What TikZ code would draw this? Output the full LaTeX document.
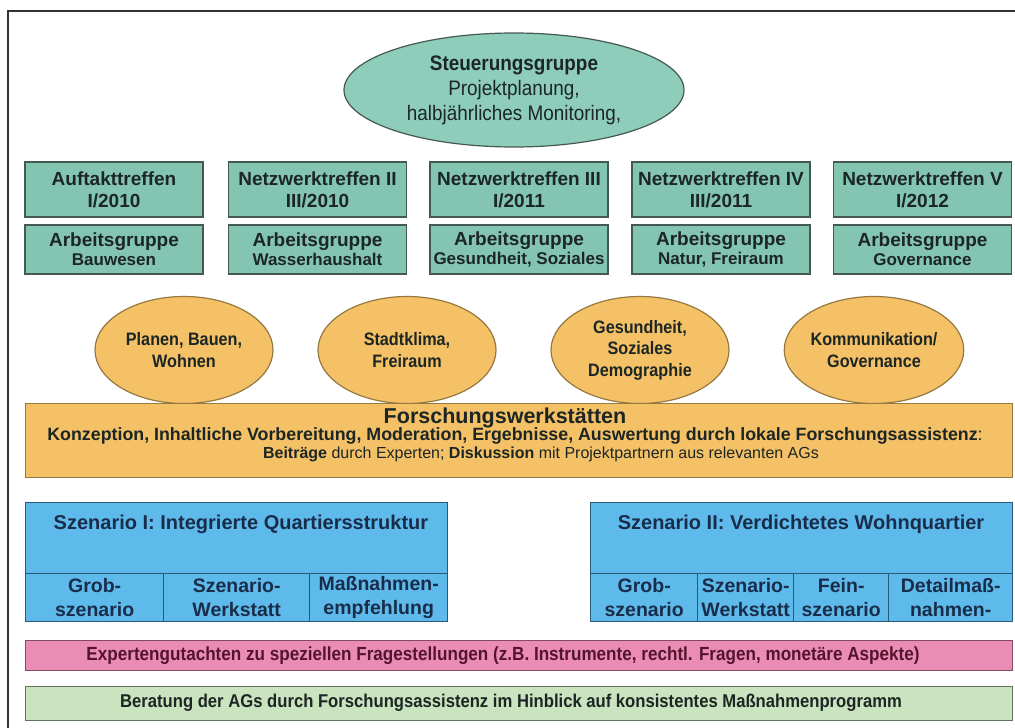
\documentclass[tikz,border=0pt]{standalone}
\usepackage{fontspec}
\setmainfont{Liberation Sans}
\newfontfamily\narrowf[FakeStretch=0.9]{Liberation Sans}
\usetikzlibrary{shapes.geometric}
\definecolor{tealfill}{RGB}{132,197,178}
\definecolor{ellfill}{RGB}{142,205,186}
\definecolor{tealline}{RGB}{70,88,84}
\definecolor{orfill}{RGB}{245,193,102}
\definecolor{orline}{RGB}{150,120,65}
\definecolor{blfill}{RGB}{94,186,234}
\definecolor{blline}{RGB}{40,90,120}
\definecolor{pkfill}{RGB}{234,140,180}
\definecolor{pkline}{RGB}{130,75,95}
\definecolor{grfill}{RGB}{201,228,190}
\definecolor{grline}{RGB}{95,115,95}
\definecolor{txdark}{RGB}{28,38,36}
\definecolor{txnavy}{RGB}{25,45,75}
\definecolor{txmaroon}{RGB}{85,20,45}
\begin{document}
\begin{tikzpicture}[x=1pt,y=-1pt,
  tealbox/.style={draw=tealline,fill=tealfill,line width=1.4pt,minimum width=178pt,inner sep=0pt,align=center,text=txdark},
  toprow/.style={tealbox,minimum height=55pt,font=\fontsize{19}{22}\selectfont\bfseries},
  agrow/.style={tealbox,minimum height=49pt},
  orcirc/.style={ellipse,draw=orline,fill=orfill,line width=1.2pt,minimum width=178pt,minimum height=107pt,inner sep=0pt,align=center,text=txdark,font=\narrowf\fontsize{18}{21.5}\selectfont\bfseries},
  bluebox/.style={draw=blline,fill=blfill,line width=1.4pt,inner sep=0pt,anchor=north west},
  cell/.style={bluebox,minimum height=48pt,align=center,text=txnavy,font=\fontsize{19.5}{24}\selectfont\bfseries},
  wide/.style={line width=1.4pt,minimum width=987pt,inner sep=0pt,anchor=north west},
  txt/.style={inner sep=0pt,align=center}
]
\useasboundingbox (0,0) rectangle (1015,728);
\fill[white] (0,0) rectangle (1015,728);
\coordinate (fa) at (8,728);
\coordinate (fb) at (8,11);
\coordinate (fc) at (1015,11);
\draw[line width=1.6pt,black!80] (fa) -- (fb) -- (fc);

% top ellipse
\node[ellipse,draw=tealline,fill=ellfill,line width=1.2pt,minimum width=340pt,minimum height=114pt,inner sep=0pt,align=center,text=txdark,font=\narrowf\fontsize{21}{25}\selectfont] (steu) at (514,90)
  {\textbf{Steuerungsgruppe}\\Projektplanung,\\halbjährliches Monitoring,};

% row 1
\node[toprow] (t1) at (114,189.5) {Auftakttreffen\\I/2010};
\node[toprow] (t2) at (317.5,189.5) {Netzwerktreffen II\\III/2010};
\node[toprow] (t3) at (519,189.5) {Netzwerktreffen III\\I/2011};
\node[toprow] (t4) at (721,189.5) {Netzwerktreffen IV\\III/2011};
\node[toprow] (t5) at (922.5,189.5) {Netzwerktreffen V\\I/2012};
% row 2
\newcommand\agtext[1]{{\fontsize{19}{22}\selectfont\bfseries Arbeitsgruppe}\\[2pt]{\fontsize{17}{18}\selectfont\bfseries #1}}
\node[agrow] (a1) at (114,249.5) {\agtext{Bauwesen}};
\node[agrow] (a2) at (317.5,249.5) {\agtext{Wasserhaushalt}};
\node[agrow] (a3) at (519,249.5) {\agtext{Gesundheit, Soziales}};
\node[agrow] (a4) at (721,249.5) {\agtext{Natur, Freiraum}};
\node[agrow] (a5) at (922.5,249.5) {\agtext{Governance}};

% circles
\node[orcirc] (c1) at (184,350) {Planen, Bauen,\\Wohnen};
\node[orcirc] (c2) at (407,350) {Stadtklima,\\Freiraum};
\node[orcirc] (c3) at (640,350) {Gesundheit,\\Soziales\\Demographie};
\node[orcirc] (c4) at (874,350) {Kommunikation/\\Governance};

% Forschungswerkstaetten
\node[wide,draw=orline,fill=orfill,minimum height=74pt] (fw) at (25,403) {};
\node[txt,text=txdark,font=\fontsize{21.5}{24}\selectfont\bfseries] (fwt) at (505,418) {Forschungswerkstätten};
\node[txt,text=txdark,font=\fontsize{17.8}{20}\selectfont] (fw2) at (515,436) {\textbf{Konzeption, Inhaltliche Vorbereitung, Moderation, Ergebnisse, Auswertung durch lokale Forschungsassistenz}:};
\node[txt,text=txdark,font=\fontsize{16}{20}\selectfont] (fw3) at (541,454) {\textbf{Beiträge} durch Experten; \textbf{Diskussion} mit Projektpartnern aus relevanten AGs};

% Szenario I
\node[bluebox,minimum width=422pt,minimum height=71pt] (s1) at (25,502) {};
\node[txt,text=txnavy,font=\fontsize{20}{24}\selectfont\bfseries] (s1t) at (241,524) {Szenario I: Integrierte Quartiersstruktur};
\node[cell,minimum width=138pt] (s1a) at (25,573) {Grob-\\szenario};
\node[cell,minimum width=146pt] (s1b) at (163,573) {Szenario-\\Werkstatt};
\node[cell,minimum width=138pt] (s1c) at (309,573) {Maßnahmen-\\empfehlung};

% Szenario II
\node[bluebox,minimum width=422pt,minimum height=71pt] (s2) at (590,502) {};
\node[txt,text=txnavy,font=\fontsize{20}{24}\selectfont\bfseries] (s2t) at (801,524) {Szenario II: Verdichtetes Wohnquartier};
\node[cell,minimum width=107pt] (s2a) at (590,573) {Grob-\\szenario};
\node[cell,minimum width=96pt] (s2b) at (697,573) {Szenario-\\Werkstatt};
\node[cell,minimum width=95pt] (s2c) at (793,573) {Fein-\\szenario};
\node[cell,minimum width=124pt] (s2d) at (888,573) {Detailmaß-\\nahmen-};

% pink and green bars
\node[wide,draw=pkline,fill=pkfill,minimum height=30pt] (pk) at (25,640) {};
\node[txt,text=txmaroon,font=\narrowf\fontsize{19}{20}\selectfont\bfseries] (pkt) at (503,655.5) {Expertengutachten zu speziellen Fragestellungen (z.B. Instrumente, rechtl. Fragen, monetäre Aspekte)};
\node[wide,draw=grline,fill=grfill,minimum height=34pt] (gr) at (25,686) {};
\node[txt,text=txdark,font=\narrowf\fontsize{18.5}{20}\selectfont\bfseries] (grt) at (511,703) {Beratung der AGs durch Forschungsassistenz im Hinblick auf konsistentes Maßnahmenprogramm};
\end{tikzpicture}
\end{document}
